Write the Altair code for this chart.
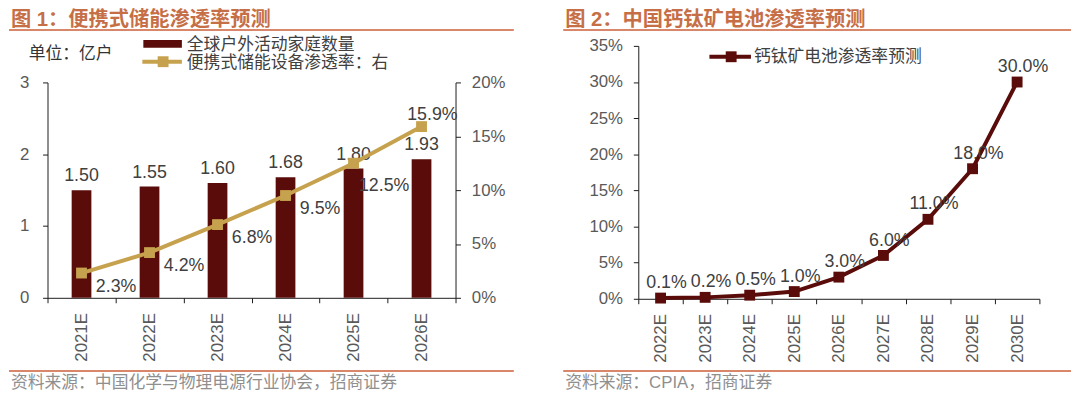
import altair as alt
import pandas as pd

# ---------------- data ----------------
years_left = ["2021E", "2022E", "2023E", "2024E", "2025E", "2026E"]
households = [1.50, 1.55, 1.60, 1.68, 1.80, 1.93]          # 亿户
portable_pct = [2.3, 4.2, 6.8, 9.5, 12.5, 15.9]            # %

years_right = ["2022E", "2023E", "2024E", "2025E", "2026E",
               "2027E", "2028E", "2029E", "2030E"]
perovskite_pct = [0.1, 0.2, 0.5, 1.0, 3.0, 6.0, 11.0, 18.0, 30.0]  # %

left_ticks = [0, 1, 2, 3]
left_right_ticks = [0, 5, 10, 15, 20]
right_ticks = [0, 5, 10, 15, 20, 25, 30, 35]

title_left = "图 1：便携式储能渗透率预测"
title_right = "图 2：中国钙钛矿电池渗透率预测"
unit_text = "单位：亿户"
legend_bar = "全球户外活动家庭数量"
legend_line = "便携式储能设备渗透率：右"
legend_right = "钙钛矿电池渗透率预测"
source_left = "资料来源：中国化学与物理电源行业协会，招商证券"
source_right = "资料来源：CPIA，招商证券"

# ---------------- styles ----------------
BAR = "#590C0A"
GOLD = "#C6A24E"
DARK = "#5A0C0A"
TITLE_C = "#C66F47"
RULE_C = "#D8876B"
TXT = "#404040"
SRC = "#8F8F8F"
NUM = "Liberation Sans"
CJK = "Liberation Sans, Noto Sans CJK SC"

one = pd.DataFrame({"k": [0]})


def deco_text(txt, x, y, size, color, bold=False):
    return alt.Chart(one).mark_text(
        align="left", baseline="middle", fontSize=size, color=color, font=CJK,
        fontWeight="bold" if bold else "normal"
    ).encode(x=alt.value(x), y=alt.value(y), text=alt.value(txt))


def deco_rule(x1, x2, y, color, w):
    return alt.Chart(one).mark_rule(color=color, strokeWidth=w).encode(
        x=alt.value(x1), x2=alt.value(x2), y=alt.value(y))


# ---------------- left panel ----------------
WL, HL = 413, 255          # plot box shares its top with the right panel
LTOP = 37                  # where the left axes start inside that box
dl = pd.DataFrame({"year": years_left, "hh": households, "pct": portable_pct})
dl["idx"] = range(len(dl))
dl["lab"] = [f"{v:.1f}%" for v in portable_pct]

xl = alt.X("year:N", sort=years_left,
           scale=alt.Scale(paddingInner=0, paddingOuter=0),
           axis=alt.Axis(title=None, labelAngle=270, tickBand="extent",
                         labelPadding=10, tickSize=5))

y_bar = alt.Y("hh:Q", scale=alt.Scale(domain=[0, 3], nice=False, range=[HL, LTOP]),
              axis=alt.Axis(values=left_ticks, orient="left", title=None, grid=False,
                            tickSize=5, labelPadding=14, format="d"))

y_line = alt.Y("pct:Q", scale=alt.Scale(domain=[0, 20], nice=False, range=[HL, LTOP]),
               axis=alt.Axis(values=left_right_ticks, orient="right", title=None, grid=False,
                             tickSize=5, labelPadding=11, labelExpr="datum.value + '%'"))

bars = alt.Chart(dl).mark_bar(color=BAR, width=alt.RelativeBandSize(0.29)).encode(x=xl, y=y_bar)
bar_labels = alt.Chart(dl).mark_text(dy=-14, fontSize=18, color=TXT, font=NUM).encode(
    x=xl, y=y_bar, text=alt.Text("hh:Q", format=".2f"))

line_l = alt.Chart(dl).mark_line(color=GOLD, strokeWidth=4).encode(x=xl, y=y_line)
sq_l = alt.Chart(dl).mark_square(size=121, color=GOLD, opacity=1).encode(x=xl, y=y_line)
lab_a = alt.Chart(dl).transform_filter("datum.idx < 4").mark_text(
    dx=35, dy=14, fontSize=18, color=TXT, font=NUM).encode(x=xl, y=y_line, text="lab:N")
lab_b = alt.Chart(dl).transform_filter("datum.idx == 4").mark_text(
    dx=31, dy=23, fontSize=18, color=TXT, font=NUM).encode(x=xl, y=y_line, text="lab:N")
lab_c = alt.Chart(dl).transform_filter("datum.idx == 5").mark_text(
    dx=11, dy=-12, fontSize=18, color=TXT, font=NUM).encode(x=xl, y=y_line, text="lab:N")

left_deco = [
    deco_text(title_left, -37, -26, 20.5, TITLE_C, bold=True),
    deco_rule(-39, 472, -16, RULE_C, 2),
    deco_text(unit_text, -19, 8, 17, "#333333"),
    alt.Chart(one).mark_rect(color=BAR).encode(
        x=alt.value(97), x2=alt.value(136), y=alt.value(-6), y2=alt.value(2)),
    deco_rule(96, 136, 16, GOLD, 4),
    alt.Chart(one).mark_square(size=121, color=GOLD, opacity=1).encode(
        x=alt.value(117), y=alt.value(16)),
    deco_text(legend_bar, 141, -1, 17, TXT),
    deco_text(legend_line, 141, 17, 17, TXT),
    deco_rule(-39, 472, 329, RULE_C, 2),
    deco_text(source_left, -37, 341, 17, SRC),
]

left = alt.layer(
    alt.layer(bars, bar_labels),
    alt.layer(line_l, sq_l, lab_a, lab_b, lab_c),
    *left_deco,
).resolve_scale(y="independent").properties(width=WL, height=HL)

# ---------------- right panel ----------------
WR, HR = 406, 256
dr = pd.DataFrame({"year": years_right, "pct": perovskite_pct})
dr["lab"] = [f"{v:.1f}%" for v in perovskite_pct]

xr = alt.X("year:N", sort=years_right,
           scale=alt.Scale(type="band", paddingInner=0, paddingOuter=0),
           axis=alt.Axis(title=None, labelAngle=270, tickBand="extent",
                         labelPadding=10, tickSize=5))
yr = alt.Y("pct:Q", scale=alt.Scale(domain=[0, 35], nice=False),
           axis=alt.Axis(values=right_ticks, title=None, grid=False, tickSize=5,
                         labelPadding=11, labelExpr="datum.value + '%'"))

line_r = alt.Chart(dr).mark_line(color=DARK, strokeWidth=4).encode(x=xr, y=yr)
sq_r = alt.Chart(dr).mark_square(size=121, color=DARK, opacity=1).encode(x=xr, y=yr)
lab_r = alt.Chart(dr).mark_text(dx=6, dy=-15, fontSize=18, color=TXT, font=NUM).encode(
    x=xr, y=yr, text="lab:N")

right_deco = [
    deco_text(title_right, -74, -26, 20.5, TITLE_C, bold=True),
    deco_rule(-76, 438, -16, RULE_C, 2),
    deco_rule(72, 114, 11, DARK, 4),
    alt.Chart(one).mark_square(size=121, color=DARK, opacity=1).encode(
        x=alt.value(94), y=alt.value(11)),
    deco_text(legend_right, 117, 11, 17, TXT),
    deco_rule(-76, 438, 329, RULE_C, 2),
    deco_text(source_right, -74, 341, 17, SRC),
]

right = alt.layer(line_r, sq_r, lab_r, *right_deco).properties(width=WR, height=HR)

chart = alt.hconcat(left, right, spacing=48).properties(
    padding=0, background="white"
).configure_view(stroke=None).configure_axis(
    domainColor="#1a1a1a", tickColor="#1a1a1a", domainWidth=1, tickWidth=1,
    labelFont=NUM, labelFontSize=17, labelColor="#595959"
)

chart.save("out.html", embed_options={"renderer": "svg", "actions": False})
